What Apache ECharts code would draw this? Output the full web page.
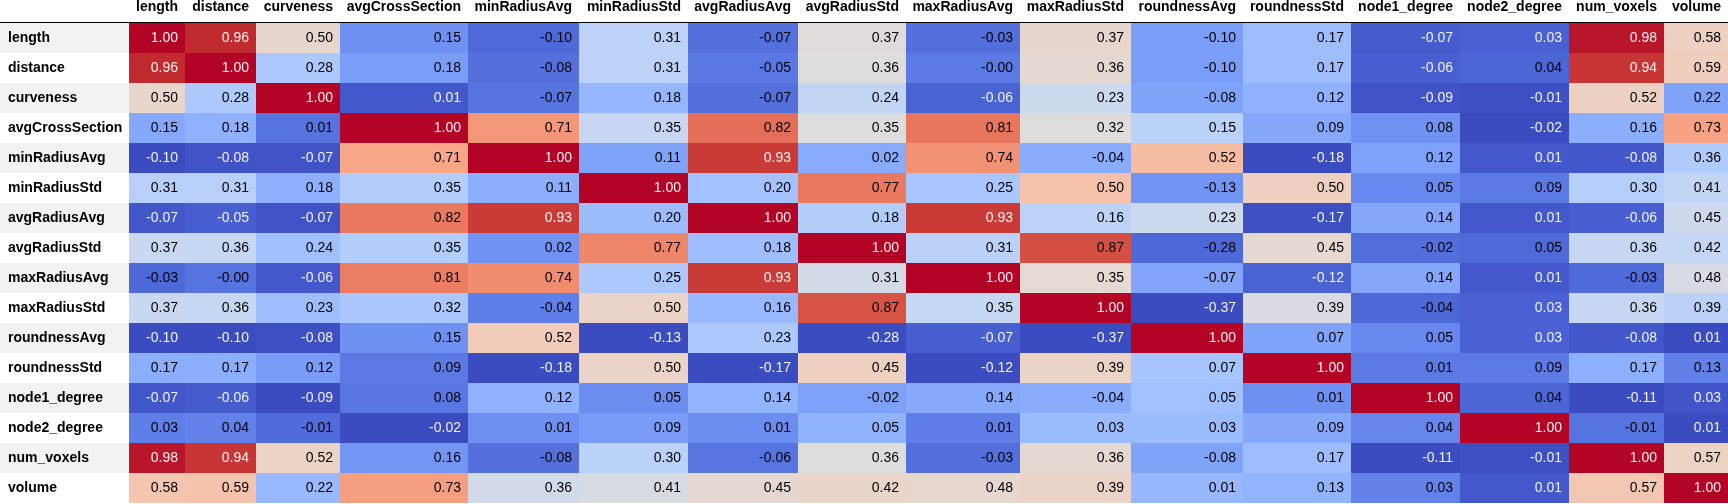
<!DOCTYPE html>
<html>
<head>
<meta charset="utf-8">
<script src="https://cdn.jsdelivr.net/npm/echarts@6/dist/echarts.min.js"></script>
<style>
html,body{margin:0;padding:0;background:#ffffff;overflow:hidden;}
#chart{width:1728px;height:504px;}
</style>
</head>
<body>
<div id="chart"></div>
<script>
// ---------------- DATA ----------------
const columns = ['length','distance','curveness','avgCrossSection','minRadiusAvg','minRadiusStd',
  'avgRadiusAvg','avgRadiusStd','maxRadiusAvg','maxRadiusStd','roundnessAvg','roundnessStd',
  'node1_degree','node2_degree','num_voxels','volume'];
const rowLabels = ['length','distance','curveness','avgCrossSection','minRadiusAvg','minRadiusStd',
  'avgRadiusAvg','avgRadiusStd','maxRadiusAvg','maxRadiusStd','roundnessAvg','roundnessStd',
  'node1_degree','node2_degree','num_voxels','volume'];

const rowLength          = [1.00, 0.96, 0.50, 0.15, -0.10, 0.31, -0.07, 0.37, -0.03, 0.37, -0.10, 0.17, -0.07, 0.03, 0.98, 0.58];
const rowDistance        = [0.96, 1.00, 0.28, 0.18, -0.08, 0.31, -0.05, 0.36, -0.00, 0.36, -0.10, 0.17, -0.06, 0.04, 0.94, 0.59];
const rowCurveness       = [0.50, 0.28, 1.00, 0.01, -0.07, 0.18, -0.07, 0.24, -0.06, 0.23, -0.08, 0.12, -0.09, -0.01, 0.52, 0.22];
const rowAvgCrossSection = [0.15, 0.18, 0.01, 1.00, 0.71, 0.35, 0.82, 0.35, 0.81, 0.32, 0.15, 0.09, 0.08, -0.02, 0.16, 0.73];
const rowMinRadiusAvg    = [-0.10, -0.08, -0.07, 0.71, 1.00, 0.11, 0.93, 0.02, 0.74, -0.04, 0.52, -0.18, 0.12, 0.01, -0.08, 0.36];
const rowMinRadiusStd    = [0.31, 0.31, 0.18, 0.35, 0.11, 1.00, 0.20, 0.77, 0.25, 0.50, -0.13, 0.50, 0.05, 0.09, 0.30, 0.41];
const rowAvgRadiusAvg    = [-0.07, -0.05, -0.07, 0.82, 0.93, 0.20, 1.00, 0.18, 0.93, 0.16, 0.23, -0.17, 0.14, 0.01, -0.06, 0.45];
const rowAvgRadiusStd    = [0.37, 0.36, 0.24, 0.35, 0.02, 0.77, 0.18, 1.00, 0.31, 0.87, -0.28, 0.45, -0.02, 0.05, 0.36, 0.42];
const rowMaxRadiusAvg    = [-0.03, -0.00, -0.06, 0.81, 0.74, 0.25, 0.93, 0.31, 1.00, 0.35, -0.07, -0.12, 0.14, 0.01, -0.03, 0.48];
const rowMaxRadiusStd    = [0.37, 0.36, 0.23, 0.32, -0.04, 0.50, 0.16, 0.87, 0.35, 1.00, -0.37, 0.39, -0.04, 0.03, 0.36, 0.39];
const rowRoundnessAvg    = [-0.10, -0.10, -0.08, 0.15, 0.52, -0.13, 0.23, -0.28, -0.07, -0.37, 1.00, 0.07, 0.05, 0.03, -0.08, 0.01];
const rowRoundnessStd    = [0.17, 0.17, 0.12, 0.09, -0.18, 0.50, -0.17, 0.45, -0.12, 0.39, 0.07, 1.00, 0.01, 0.09, 0.17, 0.13];
const rowNode1Degree     = [-0.07, -0.06, -0.09, 0.08, 0.12, 0.05, 0.14, -0.02, 0.14, -0.04, 0.05, 0.01, 1.00, 0.04, -0.11, 0.03];
const rowNode2Degree     = [0.03, 0.04, -0.01, -0.02, 0.01, 0.09, 0.01, 0.05, 0.01, 0.03, 0.03, 0.09, 0.04, 1.00, -0.01, 0.01];
const rowNumVoxels       = [0.98, 0.94, 0.52, 0.16, -0.08, 0.30, -0.06, 0.36, -0.03, 0.36, -0.08, 0.17, -0.11, -0.01, 1.00, 0.57];
const rowVolume          = [0.58, 0.59, 0.22, 0.73, 0.36, 0.41, 0.45, 0.42, 0.48, 0.39, 0.01, 0.13, 0.03, 0.01, 0.57, 1.00];

const matrix = [rowLength,rowDistance,rowCurveness,rowAvgCrossSection,rowMinRadiusAvg,rowMinRadiusStd,
  rowAvgRadiusAvg,rowAvgRadiusStd,rowMaxRadiusAvg,rowMaxRadiusStd,rowRoundnessAvg,rowRoundnessStd,
  rowNode1Degree,rowNode2Degree,rowNumVoxels,rowVolume];

// ---------------- LAYOUT / STYLE ----------------
const W = 1728, H = 504;
const colEdges = [0,129,185,256,340,468,579,688,798,906,1020,1131,1243,1351,1460,1569,1664,1728];
const HEADER_H = 23, ROW_H = 30, PAD = 7, HEADER_TEXT_Y = 7;
const FONT = '"Liberation Sans", Arial, sans-serif';

// matplotlib coolwarm control points (0..255)
const coolwarm = [
 [59,76,192],[68,90,204],[77,104,215],[87,117,225],[98,130,234],[108,142,241],[119,154,247],[130,165,251],
 [141,176,254],[152,185,255],[163,194,255],[174,201,253],[184,208,249],[194,213,244],[204,217,238],[213,219,230],
 [221,221,221],[229,216,209],[236,211,197],[241,204,185],[245,196,173],[247,187,160],[247,177,148],[247,166,135],
 [244,154,123],[241,141,111],[236,127,99],[229,112,88],[222,96,77],[213,80,66],[203,62,56],[192,40,47],[180,4,38]
];
function cmap(t){
  let idx = Math.floor(t*256); if (idx > 255) idx = 255; if (idx < 0) idx = 0;
  const x = idx/255*(coolwarm.length-1);
  const i = Math.min(Math.floor(x), coolwarm.length-2), f = x - i;
  const a = coolwarm[i], b = coolwarm[i+1];
  return [a[0]+(b[0]-a[0])*f, a[1]+(b[1]-a[1])*f, a[2]+(b[2]-a[2])*f];
}
function lum(rgb){
  const c = rgb.map(v => { const x = v/255; return x <= 0.03928 ? x/12.92 : (x+0.055)/Math.pow(1.055,2.4); });
  return 0.2126*c[0]+0.7152*c[1]+0.0722*c[2];
}
function fmt(v){
  const neg = v < 0 || Object.is(v,-0);
  return (neg ? '-' : '') + Math.abs(v).toFixed(2);
}
const colMin = columns.map((_,c)=>Math.min(...matrix.map(r=>r[c])));
const colMax = columns.map((_,c)=>Math.max(...matrix.map(r=>r[c])));

const cellData = [];
matrix.forEach((row,r)=>row.forEach((v,c)=>cellData.push([c,r,v])));
const headerData = columns.map((_,c)=>[c]);
const indexData = rowLabels.map((_,r)=>[r]);

const chart = echarts.init(document.getElementById('chart'), null, {renderer:'canvas'});
chart.setOption({
  animation:false,
  backgroundColor:'#ffffff',
  grid:{left:0,right:0,top:0,bottom:0},
  xAxis:{type:'value',min:0,max:W,show:false},
  yAxis:{type:'value',min:0,max:H,inverse:true,show:false},
  series:[
    {
      type:'custom', silent:true, data:cellData,
      renderItem:function(params, api){
        const c = api.value(0), r = api.value(1), v = api.value(2);
        const p0 = api.coord([colEdges[c+1], HEADER_H + r*ROW_H]);
        const p1 = api.coord([colEdges[c+2], HEADER_H + (r+1)*ROW_H]);
        const t = (v - colMin[c])/(colMax[c]-colMin[c]);
        const rgb = cmap(t);
        const fill = 'rgb('+rgb.map(Math.round).join(',')+')';
        const tc = lum(rgb) < 0.408 ? '#f1f1f1' : '#000000';
        return {type:'group', children:[
          {type:'rect', shape:{x:p0[0], y:p0[1], width:p1[0]-p0[0], height:p1[1]-p0[1]}, style:{fill:fill}},
          {type:'text', x:p1[0]-PAD, y:(p0[1]+p1[1])/2,
           style:{text:fmt(v), fill:tc, font:'14px '+FONT, align:'right', verticalAlign:'middle'}}
        ]};
      }
    },
    {
      type:'custom', silent:true, data:indexData,
      renderItem:function(params, api){
        const r = api.value(0);
        const p0 = api.coord([colEdges[0], HEADER_H + r*ROW_H]);
        const p1 = api.coord([colEdges[1], HEADER_H + (r+1)*ROW_H]);
        return {type:'group', children:[
          {type:'rect', shape:{x:p0[0], y:p0[1], width:p1[0]-p0[0], height:p1[1]-p0[1]},
           style:{fill: r%2===0 ? '#f2f2f2' : '#ffffff'}},
          {type:'text', x:p0[0]+8, y:(p0[1]+p1[1])/2,
           style:{text:rowLabels[r], fill:'#000000', font:'bold 14px '+FONT, align:'left', verticalAlign:'middle'}}
        ]};
      }
    },
    {
      type:'custom', silent:true, data:headerData,
      renderItem:function(params, api){
        const c = api.value(0);
        const p1 = api.coord([colEdges[c+2], 0]);
        const pm = api.coord([0, HEADER_TEXT_Y]);
        const children = [
          {type:'text', x:p1[0]-PAD, y:pm[1],
           style:{text:columns[c], fill:'#000000', font:'bold 14px '+FONT, align:'right', verticalAlign:'middle'}}
        ];
        if (c === 0) {
          const a = api.coord([0, HEADER_H-1]), b = api.coord([W, HEADER_H]);
          children.push({type:'rect', shape:{x:a[0], y:a[1], width:b[0]-a[0], height:b[1]-a[1]}, style:{fill:'#000000'}});
        }
        return {type:'group', children:children};
      }
    }
  ]
});
</script>
</body>
</html>
